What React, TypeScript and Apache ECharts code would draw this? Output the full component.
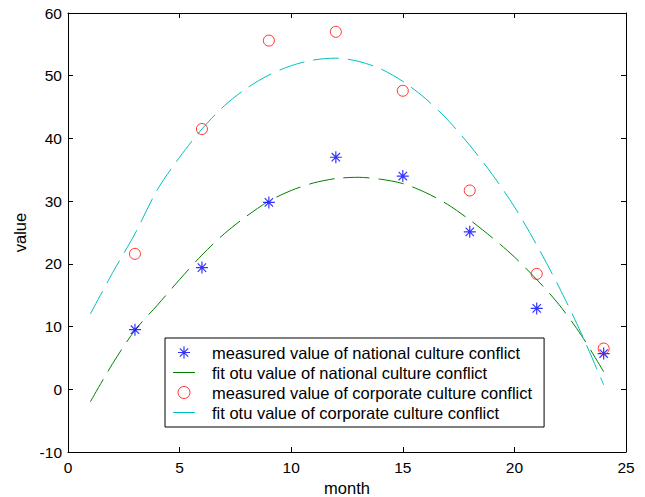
import React, { useEffect, useRef } from "react";
import * as echarts from "echarts";

// measured months
const months = [3, 6, 9, 12, 15, 18, 21, 24];
// measured values
const nationalMeasured = [9.5, 19.4, 29.8, 37.0, 34.0, 25.1, 12.9, 5.7];
const corporateMeasured = [21.6, 41.5, 55.6, 57.0, 47.6, 31.7, 18.4, 6.5];

// fitted curves, read at each month 1..24
const fitMonths = [1, 2, 3, 4, 5, 6, 7, 8, 9, 10, 11, 12, 13, 14, 15, 16, 17, 18, 19, 20, 21, 22, 23, 24];
const nationalFit = [-2.0, 4.1, 9.4, 13.4, 17.5, 21.4, 24.8, 27.6, 30.0, 31.7, 32.9, 33.6, 33.8, 33.5, 32.8, 31.4, 29.5, 27.0, 24.2, 21.1, 17.5, 13.5, 8.6, 2.8];
const corporateFit = [12.0, 18.6, 24.8, 31.8, 37.0, 41.5, 45.2, 48.0, 50.1, 51.6, 52.5, 52.8, 52.3, 51.1, 49.1, 46.4, 43.0, 38.9, 34.3, 29.1, 23.0, 16.3, 8.9, 0.7];

const xTicks = { min: 0, max: 25, interval: 5 };
const yTicks = { min: -10, max: 60, interval: 10 };

const names = [
  "measured value of national culture conflict",
  "fit otu value of national culture conflict",
  "measured value of corporate culture conflict",
  "fit otu value of corporate culture conflict",
];

const STAR =
  "path://M9 0 H11 V20 H9 Z M0 9 H20 V11 H0 Z M2.3 3.7 L3.7 2.3 L17.7 16.3 L16.3 17.7 Z M16.3 2.3 L17.7 3.7 L3.7 17.7 L2.3 16.3 Z";
const LINE_ICON = "path://M0 0 H22 V1 H0 Z";

const FONT = "'Liberation Sans', Arial, sans-serif";

export default function App() {
  const ref = useRef<HTMLDivElement>(null);
  useEffect(() => {
    if (!ref.current) return;
    const chart = echarts.init(ref.current, undefined, { renderer: "svg" });
    const axisLine = { show: true, onZero: false, lineStyle: { color: "#000", width: 1 } };
    const tick = { show: true, inside: true, length: 5, lineStyle: { color: "#000" } };
    chart.setOption({
      animation: false,
      backgroundColor: "#fff",
      textStyle: { fontFamily: FONT },
      grid: { left: 68, right: 19, top: 13, bottom: 45, containLabel: false, outerBoundsMode: "none" },
      xAxis: [
        {
          type: "value",
          ...xTicks,
          name: "month",
          nameLocation: "middle",
          nameGap: 27,
          nameTextStyle: { fontSize: 16.5, color: "#000", fontFamily: FONT },
          axisLine,
          axisTick: tick,
          axisLabel: { fontSize: 15.5, color: "#000", margin: 7, fontFamily: FONT },
          splitLine: { show: false },
        },
        {
          type: "value",
          position: "top",
          ...xTicks,
          axisLine,
          axisTick: tick,
          axisLabel: { show: false },
          splitLine: { show: false },
        },
      ],
      yAxis: [
        {
          type: "value",
          ...yTicks,
          name: "value",
          nameLocation: "middle",
          nameGap: 40,
          nameTextStyle: { fontSize: 16.5, color: "#000", fontFamily: FONT },
          axisLine,
          axisTick: tick,
          axisLabel: { fontSize: 15.5, color: "#000", margin: 6, fontFamily: FONT },
          splitLine: { show: false },
        },
        {
          type: "value",
          position: "right",
          ...yTicks,
          axisLine,
          axisTick: tick,
          axisLabel: { show: false },
          splitLine: { show: false },
        },
      ],
      legend: {
        orient: "vertical",
        left: 165,
        top: 338,
        padding: [6, 12, 6, 8],
        itemGap: 3,
        itemWidth: 22,
        itemHeight: 12,
        borderColor: "#000",
        borderWidth: 1,
        backgroundColor: "#fff",
        textStyle: {
          fontSize: 16.5,
          lineHeight: 17,
          color: "#000",
          fontFamily: FONT,
          padding: [0, 0, 0, 12],
        },
        data: [
          { name: names[0], icon: STAR, itemStyle: { color: "#0000ff" } },
          { name: names[1], icon: LINE_ICON, itemStyle: { color: "#008000", borderWidth: 0 } },
          {
            name: names[2],
            icon: "circle",
            itemStyle: { color: "rgba(0,0,0,0)", borderColor: "#ff0000", borderWidth: 1 },
          },
          { name: names[3], icon: LINE_ICON, itemStyle: { color: "#00bfbf", borderWidth: 0 } },
        ],
      },
      series: [
        {
          name: names[0],
          type: "scatter",
          symbol: STAR,
          symbolSize: 12,
          itemStyle: { color: "#0000ff" },
          data: months.map((m, i) => [m, nationalMeasured[i]]),
          z: 3,
        },
        {
          name: names[1],
          type: "line",
          smooth: 0.3,
          showSymbol: false,
          symbol: "none",
          lineStyle: { color: "#008000", width: 1, type: [26, 9] },
          itemStyle: { color: "#008000" },
          data: fitMonths.map((m, i) => [m, nationalFit[i]]),
          z: 2,
        },
        {
          name: names[2],
          type: "scatter",
          symbol: "circle",
          symbolSize: 11,
          itemStyle: { color: "rgba(0,0,0,0)", borderColor: "#ff0000", borderWidth: 1 },
          data: months.map((m, i) => [m, corporateMeasured[i]]),
          z: 3,
        },
        {
          name: names[3],
          type: "line",
          smooth: 0.3,
          showSymbol: false,
          symbol: "none",
          lineStyle: { color: "#00bfbf", width: 1, type: [26, 9] },
          itemStyle: { color: "#00bfbf" },
          data: fitMonths.map((m, i) => [m, corporateFit[i]]),
          z: 2,
        },
      ],
    });
    return () => chart.dispose();
  }, []);
  return (
    <div
      ref={ref}
      style={{ position: "fixed", left: 0, top: 0, width: 645, height: 497 }}
    />
  );
}
